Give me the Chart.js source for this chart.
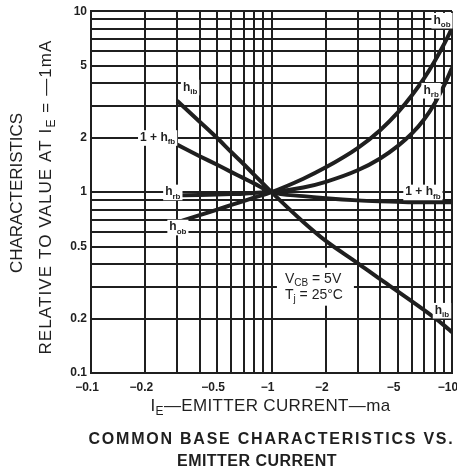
<!DOCTYPE html>
<html><head><meta charset="utf-8">
<script src="https://cdn.jsdelivr.net/npm/chart.js@4/dist/chart.umd.min.js"></script>
<style>html,body{margin:0;padding:0;background:#fff;}#wrap{width:457px;height:471px;position:relative;}</style>
</head><body><div id="wrap"><canvas id="c" width="457" height="471"></canvas></div>
<script>
// ---- data (I_E magnitude in mA, values relative to value at I_E = -1 mA) ----
const emitterCurrent = [0.3,0.4,0.5,0.6,0.7,0.8,1,1.5,2,3,4,5,6,7,8,9,10];
const hib        = [3.2,2.45,1.99,1.66,1.43,1.25,1.0,0.684,0.537,0.405,0.33,0.283,0.249,0.223,0.202,0.184,0.168];
const onePlusHfb = [1.83,1.58,1.415,1.29,1.195,1.117,1.0,0.95,0.925,0.9,0.89,0.885,0.88,0.88,0.88,0.88,0.88];
const hrb        = [0.96,0.965,0.97,0.975,0.98,0.99,1.0,1.06,1.14,1.32,1.535,1.795,2.11,2.52,3.08,3.85,4.86];
const hob        = [0.68,0.746,0.80,0.849,0.892,0.931,1.0,1.186,1.37,1.75,2.2,2.75,3.43,4.25,5.27,6.52,8.05];

const gridValues = [0.1,0.2,0.3,0.4,0.5,0.6,0.7,0.8,0.9,1,2,3,4,5,6,7,8,9,10];
const xTickValues = [0.1,0.2,0.5,1,2,5,10];
const xTickLabels = ["\u22120.1","\u22120.2","\u22120.5","\u22121","\u22122","\u22125","\u221210"];
const yTickValues = [0.1,0.2,0.5,1,2,5,10];
const yTickLabels = ["0.1","0.2","0.5","1","2","5","10"];

const seriesNames = ["h_ib","1 + h_fb","h_rb","h_ob"];
const seriesValues = [hib, onePlusHfb, hrb, hob];

// curve annotations (data coordinates)
const curveLabels = [
  {x:0.354, y:3.8,  parts:[["h",0],["ib",1]]},
  {x:0.234, y:2.0,  parts:[["1 + h",0],["fb",1]]},
  {x:0.284, y:1.0,  parts:[["h",0],["rb",1]]},
  {x:0.303, y:0.64, parts:[["h",0],["ob",1]]},
  {x:8.8,   y:8.9,  parts:[["h",0],["ob",1]]},
  {x:7.66,  y:3.65, parts:[["h",0],["rb",1]]},
  {x:6.9,   y:1.0,  parts:[["1 + h",0],["fb",1]]},
  {x:8.8,   y:0.222, parts:[["h",0],["ib",1]]}
];
const conditionLines = [
  [["V",0],["CB",1],[" = 5V",0]],
  [["T",0],["j",1],[" = 25\u00B0C",0]]
];
const conditionAnchor = {x:1.74, y:0.3};

const INK = "#1f1f1f";
const FAM = '"Liberation Sans", Arial, sans-serif';

function near(a,b){return Math.abs(a-b) < 1e-6*Math.max(1,Math.abs(b));}
function lookup(v, vals, labels){
  for (let i=0;i<vals.length;i++) if (near(v, vals[i])) return labels[i];
  return "";
}

function setLS(ctx, ls){ if ('letterSpacing' in ctx) ctx.letterSpacing = ls + "px"; }

// parts: [text, isSub]
function measureRich(ctx, parts, size, weight, ls){
  let w = 0, n = 0;
  parts.forEach(p => {
    ctx.font = weight + " " + (p[1] ? Math.round(size*0.7) : size) + "px " + FAM;
    setLS(ctx, ls);
    w += ctx.measureText(p[0]).width; n += p[0].length;
  });
  setLS(ctx, 0);
  return {w, n};
}
function drawRich(ctx, parts, x, cy, size, weight, opt){
  opt = opt || {};
  let ls = 0;
  if (opt.fit && ('letterSpacing' in ctx)) {
    const m0 = measureRich(ctx, parts, size, weight, 0);
    ls = (opt.fit - m0.w) / m0.n;
  }
  const m = measureRich(ctx, parts, size, weight, ls);
  let sx = opt.align === "left" ? x : x - m.w/2;
  if (opt.bg) {
    ctx.fillStyle = "#fff";
    ctx.fillRect(sx - 2, cy - size*0.62, m.w + 4, size*1.3);
  }
  ctx.fillStyle = INK;
  ctx.textBaseline = "middle";
  ctx.textAlign = "left";
  parts.forEach(p => {
    const s = p[1] ? Math.round(size*0.7) : size;
    ctx.font = weight + " " + s + "px " + FAM;
    setLS(ctx, ls);
    ctx.fillText(p[0], sx, p[1] ? cy + size*0.35 : cy);
    sx += ctx.measureText(p[0]).width;
  });
  setLS(ctx, 0);
}

const textPlugin = {
  id: "texts",
  afterDraw(chart){
    const ctx = chart.ctx, xs = chart.scales.x, ys = chart.scales.y;
    ctx.save();
    curveLabels.forEach(l => {
      drawRich(ctx, l.parts, xs.getPixelForValue(l.x), ys.getPixelForValue(l.y), 12, "bold", {bg:true});
    });
    const cx = xs.getPixelForValue(conditionAnchor.x), cy = ys.getPixelForValue(conditionAnchor.y);
    ctx.fillStyle = "#fff";
    ctx.fillRect(cx - 38, cy - 19, 77, 38);
    drawRich(ctx, conditionLines[0], cx - 30, cy - 8, 14, "normal", {align:"left"});
    drawRich(ctx, conditionLines[1], cx - 30, cy + 8, 14, "normal", {align:"left"});
    const mid = (chart.chartArea.left + chart.chartArea.right)/2;
    drawRich(ctx, [["I",0],["E",1],["\u2014EMITTER CURRENT\u2014ma",0]], mid - 1, 406, 17, "normal", {fit:240});
    drawRich(ctx, [["COMMON BASE CHARACTERISTICS VS.",0]], mid, 440, 16, "bold", {fit:366});
    drawRich(ctx, [["EMITTER CURRENT",0]], 257, 462, 16, "bold", {fit:160});
    ctx.save(); ctx.translate(17, 193); ctx.rotate(-Math.PI/2);
    drawRich(ctx, [["CHARACTERISTICS",0]], 0, 0, 17, "normal", {fit:160});
    ctx.restore();
    ctx.save(); ctx.translate(46, 197); ctx.rotate(-Math.PI/2);
    drawRich(ctx, [["RELATIVE TO VALUE AT I",0],["E",1],[" = \u20141mA",0]], 0, 0, 17, "normal", {fit:315});
    ctx.restore();
    ctx.restore();
  }
};

const datasets = seriesValues.map((vals, k) => ({
  label: seriesNames[k],
  data: emitterCurrent.map((x, i) => ({x, y: vals[i]})),
  borderColor: INK,
  borderWidth: 4,
  pointRadius: 0,
  fill: false,
  cubicInterpolationMode: "monotone"
}));

const gridOpts = {color: INK, lineWidth: 2, drawTicks: false};

new Chart(document.getElementById("c"), {
  type: "line",
  data: {datasets},
  options: {
    responsive: false,
    devicePixelRatio: 1,
    animation: false,
    layout: {padding: {left: 0, right: 5, top: 10, bottom: 0}},
    plugins: {legend: {display: false}, tooltip: {enabled: false}, title: {display: false}},
    scales: {
      x: {
        type: "logarithmic", min: 0.1, max: 10,
        afterBuildTicks: s => { s.ticks = gridValues.map(v => ({value: v})); },
        afterFit: s => { s.height = 98; s.paddingLeft = 0; s.paddingRight = 0; },
        ticks: {autoSkip: false, maxRotation: 0, minRotation: 0, padding: 7, labelOffset: -4,
                color: INK, font: {family: FAM, weight: "bold", size: 12},
                callback: v => lookup(v, xTickValues, xTickLabels)},
        grid: gridOpts,
        border: {display: true, color: INK, width: 2}
      },
      y: {
        type: "logarithmic", min: 0.1, max: 10,
        afterBuildTicks: s => { s.ticks = gridValues.map(v => ({value: v})); },
        afterFit: s => { s.width = 91; },
        ticks: {autoSkip: false, padding: 4, color: INK, font: {family: FAM, weight: "bold", size: 12},
                callback: v => lookup(v, yTickValues, yTickLabels)},
        grid: gridOpts,
        border: {display: true, color: INK, width: 2}
      }
    }
  },
  plugins: [textPlugin]
});
</script></body></html>
